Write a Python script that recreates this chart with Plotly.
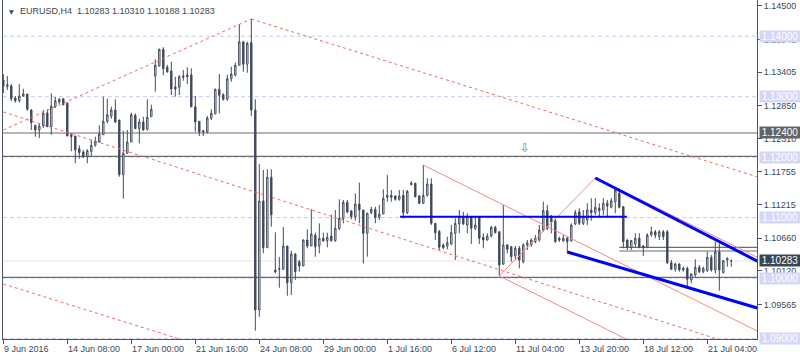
import plotly.graph_objects as go

# ---------------- data ----------------
idx = list(range(183))

open_ = [1.13276,1.13165,1.13177,1.12978,1.12934,1.13011,1.13045,1.12780,1.12527,1.12449,
1.12515,1.12730,1.12504,1.12834,1.12912,1.12967,1.12891,1.12371,1.12350,1.12140,
1.12085,1.12008,1.12097,1.12196,1.12251,1.12371,1.12593,1.12681,1.12780,1.12615,
1.11710,1.12064,1.12251,1.12692,1.12471,1.12581,1.12461,1.12669,1.13342,1.13508,
1.13784,1.13486,1.13425,1.13160,1.13155,1.13342,1.13359,1.13359,1.12834,1.12593,
1.12438,1.12416,1.12643,1.12714,1.13122,1.13033,1.12957,1.13298,1.13359,1.13519,
1.13909,1.13536,1.13893,1.12780,1.09473,1.11275,1.10503,1.11667,1.10134,1.10146,
1.10146,1.10531,1.09924,1.10399,1.10271,1.10200,1.10630,1.10531,1.10708,1.10531,
1.10658,1.10619,1.10696,1.10619,1.10817,1.10989,1.11254,1.11110,1.11015,1.11225,
1.11126,1.10741,1.11082,1.11138,1.11005,1.11060,1.11336,1.11369,1.11358,1.11303,
1.11369,1.11082,1.11545,1.11568,1.11358,1.11237,1.11369,1.11556,1.10906,1.10774,
1.10547,1.10531,1.10564,1.10741,1.10895,1.11015,1.10878,1.11015,1.10824,1.11015,
1.10675,1.10630,1.10696,1.10840,1.10767,1.10233,1.10547,1.10519,1.10366,1.10493,
1.10271,1.10547,1.10547,1.10602,1.10630,1.10795,1.11115,1.11027,1.10944,1.10658,
1.10614,1.10658,1.10614,1.10895,1.11098,1.10906,1.10961,1.11126,1.11082,1.11154,
1.11126,1.11237,1.11171,1.11263,1.11402,1.11181,1.10630,1.10509,1.10564,1.10658,
1.10531,1.10509,1.10713,1.10767,1.10685,1.10767,1.10767,1.10255,1.10146,1.10233,
1.10134,1.10162,1.09969,1.10051,1.10179,1.10106,1.10123,1.10344,1.10134,1.10437,
1.10089,1.10299,1.10283]

high = [1.13375,1.13342,1.13210,1.13011,1.13210,1.13132,1.13045,1.12792,1.12527,1.12560,
1.12780,1.12792,1.13056,1.12995,1.12978,1.12967,1.12912,1.12395,1.12350,1.12196,
1.12118,1.12130,1.12284,1.12338,1.12527,1.13000,1.12967,1.12834,1.12957,1.12615,
1.12438,1.12449,1.12735,1.12725,1.12636,1.12669,1.12957,1.12868,1.13618,1.13794,
1.13817,1.13524,1.13579,1.13331,1.13359,1.13441,1.13486,1.13470,1.13011,1.12593,
1.12449,1.12681,1.12792,1.13132,1.13375,1.13056,1.13364,1.13496,1.13562,1.14202,
1.13909,1.13909,1.14285,1.12957,1.11887,1.11788,1.11799,1.11799,1.10757,1.10349,
1.10845,1.10531,1.10453,1.10410,1.10299,1.10642,1.10807,1.11138,1.10751,1.10906,
1.10751,1.10751,1.11048,1.11126,1.11303,1.11292,1.11292,1.11126,1.11402,1.11578,
1.11126,1.11082,1.11181,1.11181,1.11209,1.11469,1.11705,1.11457,1.11369,1.11457,
1.11457,1.11457,1.11606,1.11578,1.11374,1.11870,1.11650,1.11650,1.10906,1.10795,
1.10575,1.10685,1.10878,1.10989,1.11126,1.11098,1.11072,1.11015,1.11015,1.11015,
1.10741,1.10741,1.10862,1.10862,1.10767,1.11209,1.10564,1.10531,1.10531,1.10531,
1.10575,1.10630,1.10658,1.10713,1.10878,1.11263,1.11209,1.11044,1.10989,1.10685,
1.10713,1.10685,1.10906,1.11126,1.11154,1.11126,1.11237,1.11320,1.11320,1.11237,
1.11320,1.11292,1.11320,1.11485,1.11485,1.11192,1.10642,1.10630,1.10741,1.10741,
1.10547,1.10741,1.10850,1.10795,1.10795,1.10795,1.10795,1.10299,1.10255,1.10245,
1.10189,1.10189,1.10079,1.10311,1.10217,1.10189,1.10437,1.10382,1.10602,1.10575,
1.10299,1.10344,1.10310]

low = [1.13061,1.13111,1.12929,1.12901,1.12901,1.12995,1.12768,1.12449,1.12338,1.12317,
1.12482,1.12504,1.12371,1.12813,1.12879,1.12858,1.12350,1.12097,1.11899,1.11975,
1.11986,1.11899,1.12008,1.12173,1.12239,1.12371,1.12560,1.12636,1.12570,1.11677,
1.11313,1.12064,1.12251,1.12471,1.12229,1.12438,1.12438,1.12669,1.13083,1.13496,
1.13354,1.13397,1.13028,1.13000,1.13028,1.13264,1.13210,1.12825,1.12421,1.12350,
1.12350,1.12395,1.12615,1.12714,1.12725,1.12934,1.12934,1.13248,1.13331,1.13519,
1.13413,1.13397,1.12681,1.09130,1.09362,1.10410,1.10503,1.10850,1.10079,1.09841,
1.10134,1.09709,1.09721,1.09969,1.10106,1.10200,1.10493,1.10531,1.10354,1.10410,
1.10602,1.10509,1.10602,1.10602,1.10795,1.10906,1.11072,1.10972,1.10949,1.10906,
1.10245,1.10354,1.11060,1.10906,1.10961,1.11060,1.11263,1.11263,1.11280,1.11280,
1.10989,1.11060,1.11535,1.11336,1.11225,1.11225,1.11346,1.10878,1.10630,1.10465,
1.10476,1.10476,1.10547,1.10299,1.10741,1.10878,1.10741,1.10564,1.10795,1.10564,
1.10493,1.10619,1.10675,1.10741,1.10035,1.10217,1.10410,1.10271,1.10299,1.10162,
1.10245,1.10465,1.10519,1.10575,1.10602,1.10767,1.10795,1.10741,1.10585,1.10597,
1.10602,1.10420,1.10602,1.10878,1.10878,1.10878,1.10878,1.10949,1.11044,1.11015,
1.11044,1.11015,1.11154,1.11072,1.11154,1.10493,1.10465,1.10465,1.10509,1.10493,
1.10366,1.10493,1.10685,1.10658,1.10630,1.10630,1.10233,1.10134,1.10106,1.10106,
1.10106,1.09831,1.09914,1.10023,1.10079,1.10079,1.10106,1.10106,1.10079,1.09792,
1.10079,1.10189,1.10188]

close = [1.13177,1.13198,1.12967,1.12934,1.13011,1.13045,1.12792,1.12570,1.12449,1.12515,
1.12725,1.12504,1.12846,1.12934,1.12957,1.12868,1.12350,1.12338,1.12118,1.12074,
1.12008,1.12107,1.12196,1.12262,1.12383,1.12593,1.12702,1.12780,1.12581,1.11710,
1.12064,1.12251,1.12702,1.12471,1.12581,1.12449,1.12659,1.12792,1.13524,1.13784,
1.13463,1.13413,1.13127,1.13127,1.13331,1.13321,1.13331,1.12834,1.12581,1.12416,
1.12416,1.12648,1.12725,1.13122,1.13023,1.12957,1.13298,1.13375,1.13519,1.13909,
1.13536,1.13883,1.12780,1.09473,1.11275,1.10503,1.11667,1.11048,1.10101,1.10156,
1.10531,1.09924,1.10399,1.10106,1.10200,1.10630,1.10531,1.10729,1.10519,1.10658,
1.10614,1.10675,1.10619,1.10824,1.10989,1.11254,1.11093,1.11015,1.11225,1.11126,
1.10741,1.11072,1.11138,1.11005,1.11060,1.11320,1.11369,1.11336,1.11303,1.11358,
1.11082,1.11435,1.11568,1.11346,1.11237,1.11369,1.11556,1.10906,1.10751,1.10509,
1.10503,1.10585,1.10751,1.10906,1.11015,1.10895,1.11015,1.10824,1.10878,1.10658,
1.10630,1.10696,1.10840,1.10751,1.10217,1.10547,1.10476,1.10354,1.10493,1.10299,
1.10547,1.10585,1.10630,1.10658,1.10795,1.11115,1.10824,1.10933,1.10602,1.10630,
1.10658,1.10602,1.10878,1.11082,1.10906,1.11015,1.11126,1.11082,1.11171,1.11115,
1.11237,1.11192,1.11280,1.11457,1.11171,1.10602,1.10509,1.10619,1.10658,1.10509,
1.10503,1.10713,1.10767,1.10713,1.10767,1.10685,1.10255,1.10146,1.10233,1.10134,
1.10162,1.09980,1.10068,1.10179,1.10106,1.10162,1.10344,1.10134,1.10437,1.10134,
1.10288,1.10327,1.10283]

x_tick_idx = [0, 16, 32, 48, 64, 80, 96, 112, 128, 144, 160, 176]
x_tick_text = ["9 Jun 2016", "14 Jun 08:00", "17 Jun 00:00", "21 Jun 16:00",
               "24 Jun 08:00", "29 Jun 00:00", "1 Jul 16:00", "6 Jul 12:00",
               "11 Jul 04:00", "13 Jul 20:00", "18 Jul 12:00", "21 Jul 04:00"]

y_tick_vals = [1.14500, 1.13945, 1.13405, 1.12850, 1.12310, 1.11755,
               1.11215, 1.10660, 1.10120, 1.09565]

round_levels = [1.14000, 1.13000, 1.12000, 1.11000, 1.10000, 1.09000]
gray_levels = [1.12400, 1.12012, 1.10012]
short_levels = [1.10509, 1.10448]
short_start = 154
bid_price = 1.10283
level_label = 1.12400

title_text = "EURUSD,H4\u00a0\u00a01.10283 1.10310 1.10188 1.10283"

# trend objects: ((index, price), (index, price))
dotted_red = [((0, 1.12449), (62, 1.14285)),
              ((62, 1.14285), (188.5, 1.11674)),
              ((0, 1.12747), (188.5, 1.08782)),
              ((0, 1.09902), (60, 1.08664))]
solid_red = [((105, 1.11870), (188.5, 1.09125)),
             ((124, 1.10035), (188.5, 1.07914)),
             ((124, 1.10035), (148, 1.11655)),
             ((148, 1.11664), (188.5, 1.10345))]
blue_thick = [((148, 1.11655), (188.5, 1.10282)),
              ((141, 1.10432), (188.5, 1.09506))]
blue_flat = ((99.2, 1.11015), (155.9, 1.11015))
arrow_mark = (130.4, 1.12151)

X_MIN, X_MAX = -0.075, 188.425
Y_MIN, Y_MAX = 1.08993, 1.14599

# ---------------- styling ----------------
CANDLE = "#404b5a"
TXT = "#3b4656"
AXIS = "#4a5562"
FONT = "Liberation Sans"

fig = go.Figure()

fig.add_trace(go.Candlestick(
    x=idx, open=open_, high=high, low=low, close=close,
    increasing=dict(line=dict(color=CANDLE, width=1), fillcolor="#ffffff"),
    decreasing=dict(line=dict(color=CANDLE, width=1), fillcolor=CANDLE),
    whiskerwidth=0, hoverinfo="skip", showlegend=False))

def add_seg(seg, color, width, dash="solid"):
    (x0, y0), (x1, y1) = seg
    fig.add_trace(go.Scatter(x=[x0, x1], y=[y0, y1], mode="lines",
                             line=dict(color=color, width=width, dash=dash),
                             hoverinfo="skip", showlegend=False))

for s in dotted_red:
    add_seg(s, "#ec6a6a", 1, "3px,3px")
for s in solid_red:
    add_seg(s, "#f08a8a", 1)
add_seg(blue_flat, "#0000ff", 2)
for s in blue_thick:
    add_seg(s, "#0000ff", 3)

shapes = []
for lv in round_levels:
    shapes.append(dict(type="line", xref="paper", x0=0, x1=1, yref="y", y0=lv, y1=lv,
                       line=dict(color="#c9c9f2", width=1, dash="4px,3px"), layer="below"))
shapes.append(dict(type="line", xref="paper", x0=0, x1=1, yref="y", y0=bid_price, y1=bid_price,
                   line=dict(color="#e6e6e6", width=1), layer="below"))
for lv in gray_levels:
    shapes.append(dict(type="line", xref="paper", x0=0, x1=1, yref="y", y0=lv, y1=lv,
                       line=dict(color="#6c6c6c", width=1.2), layer="below"))
for lv in short_levels:
    shapes.append(dict(type="line", xref="x", x0=short_start, x1=X_MAX, yref="y", y0=lv, y1=lv,
                       line=dict(color="#6c6c6c", width=1.2), layer="below"))

ann = []
for xi, t in zip(x_tick_idx, x_tick_text):
    ann.append(dict(x=xi, xref="x", y=0, yref="paper", text=t, showarrow=False,
                    xanchor="left", yanchor="top", xshift=-1, yshift=-3,
                    font=dict(family=FONT, size=9, color=TXT)))

def price_box(p, bg, fg="#ffffff"):
    return dict(x=1, xref="paper", y=p, yref="y", text=f"{p:.5f}", showarrow=False,
                xanchor="left", yanchor="middle", xshift=2, width=39, height=10,
                borderpad=0.5, align="center", bgcolor=bg,
                font=dict(family=FONT, size=10, color=fg))

for lv in round_levels:
    ann.append(price_box(lv, "#d6d6f6"))
ann.append(price_box(level_label, "#646464"))
ann.append(price_box(bid_price, "#3b4651"))

ann.append(dict(x=0, xref="paper", y=1, yref="paper", text="\u25bc", showarrow=False,
                xanchor="left", yanchor="top", xshift=3.5, yshift=-6,
                font=dict(family="DejaVu Sans", size=6, color=TXT)))
ann.append(dict(x=0, xref="paper", y=1, yref="paper", text=title_text, showarrow=False,
                xanchor="left", yanchor="top", xshift=15, yshift=-4,
                font=dict(family=FONT, size=9, color=TXT)))
ann.append(dict(x=arrow_mark[0], xref="x", y=arrow_mark[1], yref="y", text="\u21e9",
                showarrow=False, font=dict(family="DejaVu Sans", size=12, color="#7a7a7a")))

fig.update_layout(
    width=800, height=360,
    margin=dict(l=3, r=43, t=0, b=21),
    paper_bgcolor="#ffffff", plot_bgcolor="#ffffff",
    boxgap=0.5,
    showlegend=False,
    shapes=shapes, annotations=ann,
    font=dict(family=FONT, size=9, color=TXT),
    xaxis=dict(range=[X_MIN, X_MAX], rangeslider=dict(visible=False),
               tickvals=x_tick_idx, showticklabels=False, ticks="outside", ticklen=4,
               tickcolor=AXIS, showline=True, linecolor=AXIS, linewidth=1,
               showgrid=False, zeroline=False, fixedrange=True),
    yaxis=dict(range=[Y_MIN, Y_MAX], side="right", tickvals=y_tick_vals,
               ticktext=[f"{v:.5f}" for v in y_tick_vals], ticks="outside", ticklen=4,
               tickcolor=AXIS, showline=True, mirror=True, linecolor=AXIS, linewidth=1,
               showgrid=False, zeroline=False, fixedrange=True,
               tickfont=dict(family=FONT, size=9, color=TXT)),
)

fig.write_html("out.html", config={"displayModeBar": False},
               post_script="document.body.style.margin='0';")
